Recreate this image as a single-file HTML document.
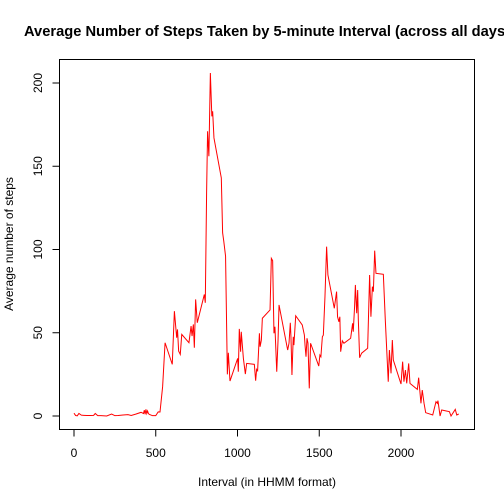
<!DOCTYPE html>
<html><head><meta charset="utf-8"><style>
html,body{margin:0;padding:0;background:#fff;}
svg{display:block;font-family:"Liberation Sans",sans-serif;}
</style></head><body>
<svg id="chart" width="504" height="504">
<rect x="0" y="0" width="504" height="504" fill="#fff"/>
<text x="24" y="36" font-size="14.4" font-weight="bold" textLength="486" lengthAdjust="spacingAndGlyphs">Average Number of Steps Taken by 5-minute Interval (across all days)</text>
<rect x="59.5" y="59.5" width="415" height="370" fill="none" stroke="#000"/>
<g id="xaxis"></g>
<g id="yaxis"></g>
<text x="267" y="486" font-size="12" text-anchor="middle">Interval (in HHMM format)</text>
<text transform="translate(13,244) rotate(-90)" font-size="12" text-anchor="middle">Average number of steps</text>
<path id="line" fill="none" stroke="#ff0000" stroke-width="1"/>
</svg>
<script>
const intervals = [0,10,20,30,45,60,80,100,120,130,145,165,200,230,250,270,300,330,350,380,410,425,430,435,440,445,450,455,460,480,500,515,526,542,557,601,614,628,633,640,650,659,703,716,722,730,736,744,754,797,803,811,817,825,834,843,848,856,901,909,916,927,938,944,954,1001,1005,1011,1019,1023,1036,1048,1056,1103,1111,1117,1123,1134,1138,1146,1152,1199,1207,1215,1223,1229,1240,1248,1254,1301,1307,1315,1323,1327,1333,1341,1345,1356,1396,1409,1413,1419,1425,1431,1439,1447,1497,1504,1510,1519,1525,1535,1545,1553,1592,1606,1612,1620,1626,1631,1641,1651,1692,1704,1708,1716,1721,1729,1735,1739,1747,1759,1796,1808,1816,1825,1831,1839,1847,1892,1904,1922,1929,1939,1947,1953,2000,2010,2018,2027,2035,2047,2055,2100,2108,2122,2130,2141,2151,2194,2214,2222,2226,2239,2249,2296,2306,2332,2341,2353];
const steps = [1.7,0.3,0.1,1.5,0.5,0.4,0.3,0.3,0.4,1.5,0.2,0.2,0,1.2,0.2,0.3,0.6,0.8,0.3,1.2,2.2,1.5,3.5,1,4,1.5,3,1.5,1,0.2,0.2,2.5,2.4,17.6,44,31,63,47,52,39,37,49,44,54,48,55,41,70,56,73,68,134,171,156,206,180,183,167,143,110,105,96,25,38,21,34.6,26.6,52.3,38.6,50.6,34.6,25.2,31.6,31,21.2,28,27.2,49.7,41.6,45.6,58.7,63.7,94.7,93.3,49.7,53.6,26.6,45.6,66.7,42.6,39.6,43.7,56,47.6,24.6,47.6,42.6,60.2,54.7,48.6,42.6,35.6,46.7,43.7,16.6,43.7,30,36.6,35.6,47.6,48.6,71.7,101.7,84.7,64.7,74.7,59.6,56.6,59.6,38.6,45.2,43.7,46.7,55.7,50.6,65.6,78.7,61.7,75.7,57.7,35,37.7,40.7,84.7,59.6,77.7,74.7,99.3,85.7,85.1,57.7,20.6,39.6,25.6,45.6,33.6,19.2,32.6,20.6,27.6,19.6,31.6,19.6,16,23,7.6,15.6,7.6,2,0.6,8.6,7.6,9.2,0,3.6,2.6,0,4,0.6,1.2];
const xTicks = [0,500,1000,1500,2000];
const yTicks = [0,50,100,150,200];

const svg = document.getElementById('chart');
const NS = 'http://www.w3.org/2000/svg';
function xs(v){ return 74 + v * 0.1635; }
function ys(v){ return 416 - v * 1.665; }

let d = '';
for (let i = 0; i < intervals.length; i++) {
  d += (i ? 'L' : 'M') + xs(intervals[i]).toFixed(2) + ' ' + ys(steps[i]).toFixed(2);
}
document.getElementById('line').setAttribute('d', d);

const xa = document.getElementById('xaxis');
const xl = document.createElementNS(NS, 'line');
xl.setAttribute('x1', xs(xTicks[0])); xl.setAttribute('x2', xs(xTicks[xTicks.length-1]));
xl.setAttribute('y1', 429.5); xl.setAttribute('y2', 429.5); xl.setAttribute('stroke', '#000');
xa.appendChild(xl);
xTicks.forEach(t => {
  const tk = document.createElementNS(NS, 'line');
  
  
  tk.setAttribute('x1', xs(t)); tk.setAttribute('x2', xs(t));
  tk.setAttribute('y1', 429.5); tk.setAttribute('y2', 436.5); tk.setAttribute('stroke', '#000');
  xa.appendChild(tk);
  const tx = document.createElementNS(NS, 'text');
  
  
  tx.setAttribute('x', xs(t)); tx.setAttribute('y', 457);
  tx.setAttribute('font-size', '12'); tx.setAttribute('text-anchor', 'middle');
  tx.textContent = t;
  xa.appendChild(tx);
});

const ya = document.getElementById('yaxis');
const yl = document.createElementNS(NS, 'line');
yl.setAttribute('x1', 59.5); yl.setAttribute('x2', 59.5);
yl.setAttribute('y1', ys(yTicks[0])); yl.setAttribute('y2', ys(yTicks[yTicks.length-1])); yl.setAttribute('stroke', '#000');
ya.appendChild(yl);
yTicks.forEach(t => {
  const tk = document.createElementNS(NS, 'line');
  
  
  tk.setAttribute('x1', 52.5); tk.setAttribute('x2', 59.5);
  tk.setAttribute('y1', ys(t)); tk.setAttribute('y2', ys(t)); tk.setAttribute('stroke', '#000');
  ya.appendChild(tk);
  const tx = document.createElementNS(NS, 'text');
  
  
  tx.setAttribute('transform', 'translate(42,' + ys(t) + ') rotate(-90)');
  tx.setAttribute('font-size', '12'); tx.setAttribute('text-anchor', 'middle');
  tx.textContent = t;
  ya.appendChild(tx);
});
</script>
</body></html>
